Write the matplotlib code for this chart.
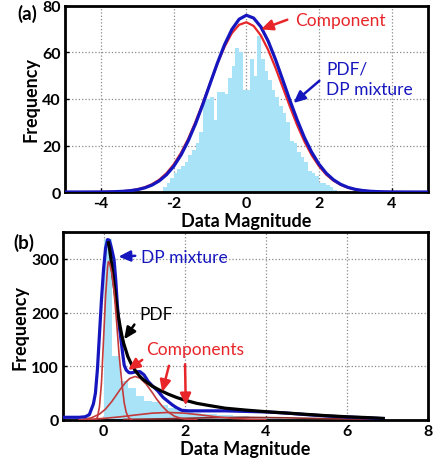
import matplotlib
matplotlib.use("Agg")
import matplotlib.pyplot as plt

plt.rcParams['font.family'] = ['Lato', 'DejaVu Sans']
plt.rcParams['axes.unicode_minus'] = False

# ---------------- Panel (a) data ----------------
hist_a_centers = [-2.25, -2.15, -2.05, -1.95, -1.85, -1.75, -1.65, -1.55, -1.45, -1.35,
                  -1.25, -1.15, -1.05, -0.95, -0.85, -0.75, -0.65, -0.55, -0.45, -0.35,
                  -0.25, -0.15, -0.05, 0.05, 0.15, 0.25, 0.35, 0.45, 0.55, 0.65,
                  0.75, 0.85, 0.95, 1.05, 1.15, 1.25, 1.35, 1.45, 1.55, 1.65,
                  1.75, 1.85, 1.95, 2.05, 2.15, 2.25, 2.35, 2.45]
hist_a_heights = [2, 4, 6, 8, 10, 11, 13, 16, 18, 21,
                  26, 39, 40, 41, 31, 43, 43, 42, 49, 54,
                  62, 60, 44, 44, 57, 50, 67, 57, 52, 48,
                  44, 41, 37, 34, 30, 22, 21, 17, 15, 13,
                  9, 8, 7, 4, 4, 3, 2, 1]

curve_a_x = [-5.0, -4.8, -4.6, -4.4, -4.2, -4.0, -3.8, -3.6, -3.4, -3.2,
             -3.0, -2.8, -2.6, -2.4, -2.2, -2.0, -1.8, -1.6, -1.4, -1.2,
             -1.0, -0.8, -0.6, -0.4, -0.2, 0.0, 0.2, 0.4, 0.6, 0.8,
             1.0, 1.2, 1.4, 1.6, 1.8, 2.0, 2.2, 2.4, 2.6, 2.8,
             3.0, 3.2, 3.4, 3.6, 3.8, 4.0, 4.2, 4.4, 4.6, 4.8, 5.0]
pdf_a = [0.0, 0.0, 0.0, 0.01, 0.02, 0.04, 0.08, 0.16, 0.31, 0.57,
         1.03, 1.79, 2.99, 4.81, 7.45, 11.1, 15.96, 22.1, 29.4, 37.7,
         46.6, 55.4, 63.4, 69.9, 74.3, 76.0, 74.8, 71.0, 64.9, 57.1,
         48.3, 39.4, 31.0, 23.4, 17.1, 12.0, 8.1, 5.27, 3.30, 1.99,
         1.16, 0.65, 0.35, 0.18, 0.09, 0.04, 0.02, 0.01, 0.0, 0.0, 0.0]
comp_a = [0.0, 0.0, 0.0, 0.01, 0.02, 0.05, 0.10, 0.19, 0.37, 0.68,
          1.20, 2.05, 3.37, 5.32, 8.11, 11.9, 16.9, 23.0, 30.3, 38.3,
          46.8, 55.1, 62.5, 68.3, 71.9, 73.0, 71.4, 67.3, 61.1, 53.5,
          45.1, 36.7, 28.7, 21.7, 15.8, 11.1, 7.48, 4.87, 3.06, 1.85,
          1.08, 0.61, 0.33, 0.17, 0.09, 0.04, 0.02, 0.01, 0.0, 0.0, 0.0]

# ---------------- Panel (b) data ----------------
hist_b_centers = [0.1, 0.3, 0.5, 0.7, 0.9, 1.1, 1.3, 1.5, 1.7, 1.9,
                  2.1, 2.3, 2.5, 2.7, 2.9, 3.1, 3.3, 3.5, 3.7, 3.9,
                  4.1, 4.3, 4.5, 4.7, 4.9]
hist_b_heights = [337, 120, 72, 60, 45, 36, 33, 28, 22, 18,
                  15, 13, 12, 11, 10, 9, 8, 7, 6, 5,
                  4, 3, 2, 2, 1]

mix_b_x = [-1.0, -0.6, -0.45, -0.35, -0.25, -0.2, -0.15, -0.1, -0.05, 0.0,
           0.05, 0.1, 0.14, 0.18, 0.22, 0.26, 0.3, 0.34, 0.38, 0.43,
           0.47, 0.51, 0.56, 0.63, 0.7, 0.8, 0.9, 1.0, 1.1, 1.2,
           1.34, 1.47, 1.6, 1.7, 1.8, 1.93, 2.1, 2.5, 3.0, 3.5,
           4.0, 4.5, 5.0, 5.5, 6.0, 6.5, 6.9]
mix_b_y = [5, 5, 6, 10, 30, 50, 95, 160, 225, 280,
           320, 336, 335, 325, 312, 298, 262, 215, 180, 150,
           125, 102, 93, 88, 88, 90, 90, 84, 72, 64,
           54, 42, 34, 28, 23, 18, 17, 17, 17, 16,
           15, 13, 10, 7.5, 5.5, 4, 2.5]

pdf_b_x = [0.12, 0.15, 0.2, 0.25, 0.3, 0.35, 0.4, 0.45, 0.5, 0.6,
           0.7, 0.8, 0.9, 1.0, 1.2, 1.4, 1.6, 1.8, 2.0, 2.3,
           2.6, 3.0, 3.5, 4.0, 4.5, 5.0, 5.5, 6.0, 6.5, 6.9]
pdf_b_y = [330, 318, 290, 258, 228, 200, 178, 158, 142, 118,
           102, 90, 81, 74, 63, 55, 48, 42, 37, 31,
           27, 22, 18.5, 15.5, 13, 10.5, 8, 6, 4.5, 3]

comp1_x = [-0.2, -0.15, -0.1, -0.05, 0.0, 0.05, 0.1, 0.12, 0.15, 0.2,
           0.26, 0.32, 0.38, 0.45, 0.51, 0.56, 0.62, 0.7]
comp1_y = [0, 5, 25, 70, 150, 230, 285, 295, 292, 275,
           240, 185, 125, 70, 32, 14, 4, 0]

comp2_x = [-0.5, -0.3, -0.1, 0.05, 0.2, 0.3, 0.4, 0.55, 0.65, 0.78,
           0.9, 1.05, 1.2, 1.3, 1.45, 1.59, 1.75, 1.9, 2.1, 2.3]
comp2_y = [1.2, 4.0, 11, 20.4, 34, 44.7, 55.8, 70.6, 77.5, 81,
           78, 67, 51.3, 40, 25.4, 14.9, 7.1, 3.2, 0.9, 0.3]

comp3_x = [-0.6, -0.3, 0.0, 0.4, 0.8, 1.2, 1.6, 2.0, 2.4, 2.8, 3.2, 3.6, 4.0]
comp3_y = [0.7, 1.5, 2.9, 5.8, 9.4, 12.7, 14, 12.7, 9.4, 5.8, 2.9, 1.5, 0.7]

comp4_x = [0.5, 1.5, 2.5, 3.5, 4.5, 5.5, 6.5, 6.9]
comp4_y = [1.0, 2.2, 4.0, 5.0, 4.0, 2.5, 1.2, 0.8]

# ---------------- styling ----------------
HIST = '#a9e3f7'
BLUE = '#1616bf'
RED = '#e8262a'
DRED = '#c43a3a'

fig = plt.figure(figsize=(4.33, 4.64), dpi=100)
ax1 = fig.add_axes([0.150, 0.584, 0.838, 0.401])
ax2 = fig.add_axes([0.1455, 0.0927, 0.8425, 0.405])

def style(ax):
    for s in ax.spines.values():
        s.set_linewidth(2.0)
        s.set_color('black')
    ax.grid(True, linestyle=':', color='#8a8a8a', linewidth=0.9)
    ax.set_axisbelow(True)
    ax.tick_params(direction='in', length=3, width=1, pad=3, labelsize=11.5)
    for lab in ax.get_xticklabels() + ax.get_yticklabels():
        lab.set_fontweight('bold')

# Panel (a)
ax1.bar(hist_a_centers, hist_a_heights, width=0.1, color=HIST, linewidth=0, zorder=2)
ax1.plot(curve_a_x, comp_a, color=RED, lw=1.6, zorder=3)
ax1.plot(curve_a_x, pdf_a, color=BLUE, lw=2.3, zorder=4)
ax1.set_xlim(-5, 5)
ax1.set_ylim(0, 80)
ax1.set_xticks([-4, -2, 0, 2, 4])
ax1.set_yticks([0, 20, 40, 60, 80])
style(ax1)
ax1.set_xlabel('Data Magnitude', fontsize=13, fontweight='bold', labelpad=1)
ax1.set_ylabel('Frequency', fontsize=13, fontweight='bold', labelpad=2)

head = '-|>,head_length=0.7,head_width=0.32'
arrow_red = dict(arrowstyle=head, color=RED, lw=1.8)
arrow_blue = dict(arrowstyle=head, color=BLUE, lw=1.8)
arrow_black = dict(arrowstyle=head, color='black', lw=1.8)

ax1.annotate('', xy=(0.33, 69.5), xytext=(1.2, 74.5), arrowprops=arrow_red, zorder=5)
ax1.text(1.33, 74, 'Component', color=RED, fontsize=12.5, va='center', ha='left')
ax1.annotate('', xy=(1.24, 37.5), xytext=(2.07, 48.6), arrowprops=arrow_blue, zorder=5)
ax1.text(2.2, 53.3, 'PDF/', color=BLUE, fontsize=12.5, va='center', ha='left')
ax1.text(2.2, 44.5, 'DP mixture', color=BLUE, fontsize=12.5, va='center', ha='left')

# Panel (b)
ax2.bar(hist_b_centers, hist_b_heights, width=0.2, color=HIST, linewidth=0, zorder=2)
ax2.plot(comp4_x, comp4_y, color='#8b2a2a', lw=1.2, zorder=3)
ax2.plot(comp3_x, comp3_y, color=DRED, lw=1.2, zorder=3)
ax2.plot(comp2_x, comp2_y, color=DRED, lw=1.2, zorder=3)
ax2.plot(mix_b_x, mix_b_y, color=BLUE, lw=2.3, zorder=4)
ax2.plot(pdf_b_x, pdf_b_y, color='black', lw=2.3, zorder=5)
ax2.plot(comp1_x, comp1_y, color=DRED, lw=1.2, zorder=6)
ax2.set_xlim(-1, 8)
ax2.set_ylim(0, 350)
ax2.set_xticks([0, 2, 4, 6, 8])
ax2.set_yticks([0, 100, 200, 300])
style(ax2)
ax2.set_xlabel('Data Magnitude', fontsize=13, fontweight='bold', labelpad=1)
ax2.set_ylabel('Frequency', fontsize=13, fontweight='bold', labelpad=2)

ax2.annotate('', xy=(0.3, 304), xytext=(0.85, 306), arrowprops=arrow_blue, zorder=7)
ax2.text(0.93, 304, 'DP mixture', color=BLUE, fontsize=12.5, va='center', ha='left')
ax2.annotate('', xy=(0.47, 146), xytext=(0.8, 182), arrowprops=arrow_black, zorder=7)
ax2.text(0.88, 198, 'PDF', color='black', fontsize=12.5, va='center', ha='left')
ax2.text(1.05, 133, 'Components', color=RED, fontsize=12.5, va='center', ha='left')
ax2.annotate('', xy=(0.55, 90), xytext=(1.01, 115), arrowprops=arrow_red, zorder=7)
ax2.annotate('', xy=(1.43, 47), xytext=(1.63, 106), arrowprops=arrow_red, zorder=7)
ax2.annotate('', xy=(2.03, 22), xytext=(2.01, 109), arrowprops=arrow_red, zorder=7)

fig.text(17 / 433, 1 - 13.5 / 464, '(a)', fontsize=13.5, fontweight='bold', va='center', ha='left')
fig.text(13 / 433, 1 - 243 / 464, '(b)', fontsize=13.5, fontweight='bold', va='center', ha='left')

fig.savefig('out.png', dpi=100)
